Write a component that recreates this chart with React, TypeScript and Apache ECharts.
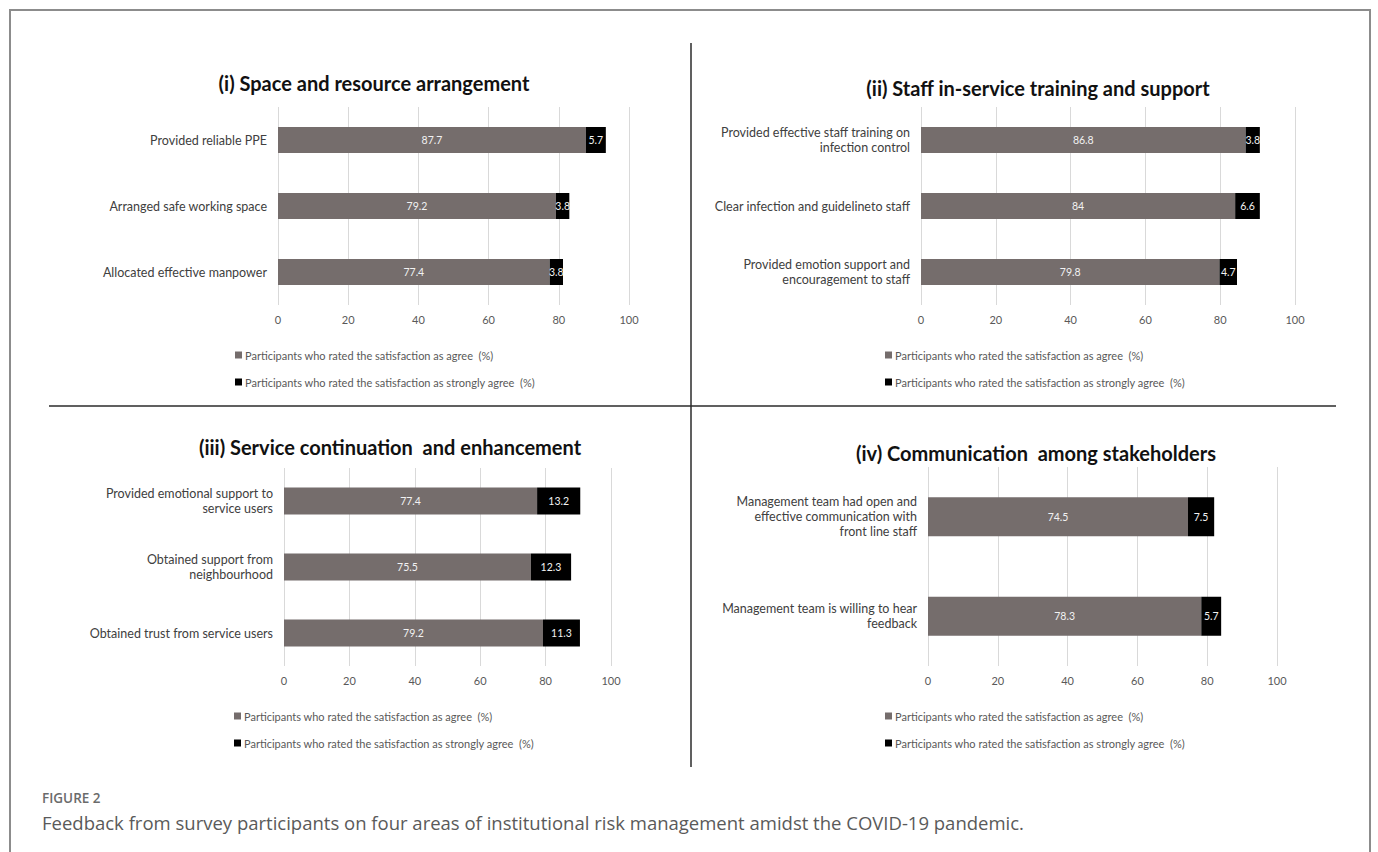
import React, { useEffect, useRef } from "react";
import * as echarts from "echarts";

const AGREE = "Participants who rated the satisfaction as agree  (%)";
const STRONG = "Participants who rated the satisfaction as strongly agree  (%)";

const titles = [
  "(i) Space and resource arrangement",
  "(ii) Staff in-service training and support",
  "(iii) Service continuation  and enhancement",
  "(iv) Communication  among stakeholders",
];

const cats1 = ["Provided reliable PPE", "Arranged safe working space", "Allocated effective manpower"];
const agree1 = [87.7, 79.2, 77.4];
const strong1 = [5.7, 3.8, 3.8];

const cats2 = [
  "Provided effective staff training on\ninfection control",
  "Clear infection and guidelineto staff",
  "Provided emotion support and\nencouragement to staff",
];
const agree2 = [86.8, 84, 79.8];
const strong2 = [3.8, 6.6, 4.7];

const cats3 = [
  "Provided emotional support to\nservice users",
  "Obtained support from\nneighbourhood",
  "Obtained trust from service users",
];
const agree3 = [77.4, 75.5, 79.2];
const strong3 = [13.2, 12.3, 11.3];

const cats4 = [
  "Management team had open and\neffective communication with\nfront line staff",
  "Management team is willing to hear\nfeedback",
];
const agree4 = [74.5, 78.3];
const strong4 = [7.5, 5.7];

const xTicks = [0, 20, 40, 60, 80, 100];

const figureLabel = "FIGURE 2";
const caption =
  "Feedback from survey participants on four areas of institutional risk management amidst the COVID-19 pandemic.";

const AGREE_COLOR = "#756d6c";
const STRONG_COLOR = "#000000";
const FONT = "Lato, 'Noto Sans', sans-serif";

// layout per panel
const panels = [
  { cats: cats1, agree: agree1, strong: strong1, grid: { left: 278, right: 749, top: 107, bottom: 547 }, barW: 26, title: [374, 83], legend: [235, 349] },
  { cats: cats2, agree: agree2, strong: strong2, grid: { left: 921, right: 83, top: 107, bottom: 547 }, barW: 26, title: [1038, 88], legend: [885, 349] },
  { cats: cats3, agree: agree3, strong: strong3, grid: { left: 284, right: 767, top: 468, bottom: 186 }, barW: 27, title: [390, 447], legend: [234, 710] },
  { cats: cats4, agree: agree4, strong: strong4, grid: { left: 928, right: 101, top: 467, bottom: 186 }, barW: 39, title: [1036, 453], legend: [885, 710] },
];

export default function App() {
  const ref = useRef<HTMLDivElement>(null);
  useEffect(() => {
    if (!ref.current) return;
    const chart = echarts.init(ref.current, null, { renderer: "svg" });

    const grid = panels.map((p) => ({ ...p.grid, containLabel: false }));
    const xAxis = panels.map((p, i) => ({
      type: "value",
      gridIndex: i,
      min: xTicks[0],
      max: xTicks[xTicks.length - 1],
      interval: xTicks[1] - xTicks[0],
      axisLine: { show: false },
      axisTick: { show: false },
      axisLabel: { color: "#595959", fontSize: 11, fontFamily: FONT, margin: 9 },
      splitLine: { show: true, lineStyle: { color: "#d9d9d9", width: 1 } },
    }));
    const yAxis = panels.map((p, i) => ({
      type: "category",
      gridIndex: i,
      data: p.cats,
      inverse: true,
      axisLine: { show: false },
      axisTick: { show: false },
      axisLabel: { color: "#404040", fontSize: 12.5, fontFamily: FONT, margin: 11, lineHeight: 15, align: "right" },
    }));
    const series: any[] = [];
    panels.forEach((p, i) => {
      series.push({
        name: AGREE,
        type: "bar",
        xAxisIndex: i,
        yAxisIndex: i,
        stack: "s" + i,
        barWidth: p.barW,
        data: p.agree,
        itemStyle: { color: AGREE_COLOR },
        label: { show: true, position: "inside", color: "#f2f2f2", fontSize: 10.5, fontFamily: FONT },
      });
      series.push({
        name: STRONG,
        type: "bar",
        xAxisIndex: i,
        yAxisIndex: i,
        stack: "s" + i,
        barWidth: p.barW,
        data: p.strong,
        itemStyle: { color: STRONG_COLOR },
        label: { show: true, position: "inside", color: "#f2f2f2", fontSize: 10.5, fontFamily: FONT },
      });
    });
    const legend = panels.map((p) => ({
      orient: "vertical",
      left: p.legend[0],
      top: p.legend[1],
      padding: 0,
      itemGap: 15,
      itemWidth: 7,
      itemHeight: 7,
      icon: "rect",
      selectedMode: false,
      data: [AGREE, STRONG],
      textStyle: { color: "#595959", fontSize: 11, fontFamily: FONT, lineHeight: 12, padding: [0, 0, 0, -2] },
    }));

    const graphic: any[] = [
      {
        type: "rect",
        shape: { x: 10, y: 10, width: 1360, height: 900 },
        style: { fill: "none", stroke: "#8c8c8c", lineWidth: 2 },
        silent: true,
      },
      {
        type: "line",
        shape: { x1: 691, y1: 43, x2: 691, y2: 767 },
        style: { stroke: "#2b2b2b", lineWidth: 1.5 },
        silent: true,
      },
      {
        type: "line",
        shape: { x1: 49, y1: 406, x2: 1336, y2: 406 },
        style: { stroke: "#2b2b2b", lineWidth: 1.5 },
        silent: true,
      },
      ...panels.map((p, i) => ({
        type: "text",
        x: p.title[0],
        y: p.title[1],
        style: {
          text: titles[i],
          fill: "#111111",
          font: "bold 20px " + FONT,
          textAlign: "center",
          textVerticalAlign: "middle",
          align: "center",
          verticalAlign: "middle",
        },
        silent: true,
      })),
      {
        type: "text",
        x: 42,
        y: 798,
        style: {
          text: figureLabel,
          fill: "#6b6b6b",
          font: "600 13.5px 'Open Sans', sans-serif",
          textVerticalAlign: "middle",
          verticalAlign: "middle",
        },
        silent: true,
      },
      {
        type: "text",
        x: 42,
        y: 822,
        style: {
          text: caption,
          fill: "#5a5a5a",
          font: "18.5px 'Open Sans', sans-serif",
          textVerticalAlign: "middle",
          verticalAlign: "middle",
        },
        silent: true,
      },
    ];

    chart.setOption({
      animation: false,
      backgroundColor: "#ffffff",
      grid,
      xAxis,
      yAxis,
      series,
      legend,
      graphic,
    });
    return () => chart.dispose();
  }, []);
  return (
    <div
      ref={ref}
      style={{ position: "fixed", left: 0, top: 0, width: 1378, height: 852, background: "#fff" }}
    />
  );
}
